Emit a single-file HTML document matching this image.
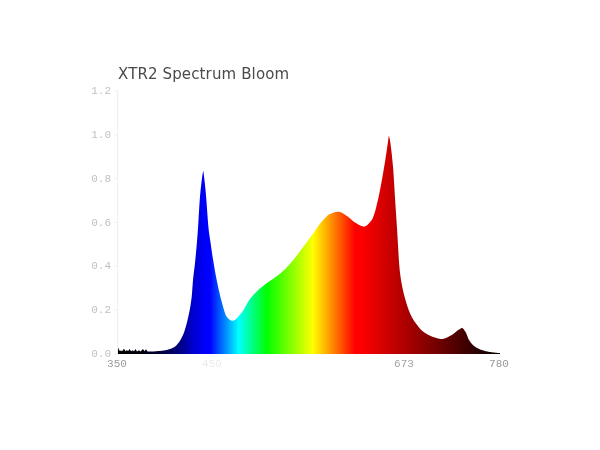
<!DOCTYPE html>
<html><head><meta charset="utf-8"><title>XTR2 Spectrum Bloom</title>
<style>
html,body{margin:0;padding:0;background:#fff;}
body{width:600px;height:450px;overflow:hidden;position:relative;font-family:"Liberation Mono",monospace;}
svg{position:absolute;left:0;top:0;}
.title{font-family:"DejaVu Sans","Liberation Sans",sans-serif;font-size:15px;fill:#4a4a4a;letter-spacing:0.13px;}
.yl{font-family:"Liberation Mono",monospace;font-size:11px;fill:#c0c0c0;text-anchor:end;}
.xl{font-family:"Liberation Mono",monospace;font-size:11px;fill:#a4a4a4;text-anchor:middle;}
</style></head><body>
<svg width="600" height="450" viewBox="0 0 600 450">
<defs><linearGradient id="g" gradientUnits="userSpaceOnUse" x1="118" y1="0" x2="500" y2="0"><stop offset="0.0000" stop-color="#000000"/><stop offset="0.0576" stop-color="#000008"/><stop offset="0.1047" stop-color="#000030"/><stop offset="0.1361" stop-color="#000058"/><stop offset="0.1571" stop-color="#000078"/><stop offset="0.1754" stop-color="#0000a0"/><stop offset="0.1937" stop-color="#0000c8"/><stop offset="0.2147" stop-color="#0000e8"/><stop offset="0.2304" stop-color="#0000ff"/><stop offset="0.2408" stop-color="#0000ff"/><stop offset="0.3154" stop-color="#00ffff"/><stop offset="0.3901" stop-color="#00ff00"/><stop offset="0.5105" stop-color="#ffff00"/><stop offset="0.6204" stop-color="#ff0000"/><stop offset="0.6387" stop-color="#fc0000"/><stop offset="1.0000" stop-color="#000000"/></linearGradient></defs>
<rect x="117" y="90" width="1.2" height="264" fill="#f0f0f0"/><rect x="114" y="90.5" width="3" height="1" fill="#f2f2f2"/><rect x="114" y="134.3" width="3" height="1" fill="#f2f2f2"/><rect x="114" y="178.1" width="3" height="1" fill="#f2f2f2"/><rect x="114" y="221.9" width="3" height="1" fill="#f2f2f2"/><rect x="114" y="265.7" width="3" height="1" fill="#f2f2f2"/><rect x="114" y="309.5" width="3" height="1" fill="#f2f2f2"/><rect x="114" y="353.3" width="3" height="1" fill="#f2f2f2"/>
<path d="M118,354.0 L118.0,351.0 L118.5,347.4 L119.6,351.0 L121.0,350.4 L122.0,351.3 L124.0,348.7 L125.5,351.2 L127.0,350.0 L128.0,351.3 L129.5,348.9 L131.0,351.3 L133.0,350.3 L134.0,351.4 L135.5,349.0 L137.0,351.4 L139.0,350.2 L140.5,351.4 L143.0,349.1 L144.5,351.3 L146.0,349.3 L147.5,351.4 L149.0,351.5 L154.0,351.4 L154.5,351.4 L155.0,351.3 L155.5,351.3 L156.0,351.2 L156.5,351.2 L157.0,351.2 L157.5,351.1 L158.0,351.1 L158.5,351.0 L159.0,351.0 L159.5,350.9 L160.0,350.9 L160.5,350.9 L161.0,350.8 L161.5,350.8 L162.0,350.7 L162.5,350.7 L163.0,350.6 L163.5,350.6 L164.0,350.5 L164.5,350.4 L165.0,350.3 L165.5,350.2 L166.0,350.1 L166.5,350.0 L167.0,349.9 L167.5,349.8 L168.0,349.6 L168.5,349.5 L169.0,349.3 L169.5,349.2 L170.0,349.0 L170.5,348.8 L171.0,348.7 L171.5,348.5 L172.0,348.3 L172.5,348.1 L173.0,347.8 L173.5,347.6 L174.0,347.3 L174.5,347.0 L175.0,346.6 L175.5,346.2 L176.0,345.7 L176.5,345.2 L177.0,344.7 L177.5,344.1 L178.0,343.5 L178.5,342.8 L179.0,342.2 L179.5,341.4 L180.0,340.7 L180.5,339.8 L181.0,339.0 L181.5,338.1 L182.0,337.1 L182.5,336.1 L183.0,335.0 L183.5,333.8 L184.0,332.5 L184.5,331.1 L185.0,329.5 L185.5,327.8 L186.0,326.0 L186.5,324.2 L187.0,322.2 L187.5,320.1 L188.0,318.0 L188.5,315.8 L189.0,313.5 L189.5,311.1 L190.0,308.4 L190.5,305.5 L191.0,302.1 L191.5,298.4 L192.0,293.5 L192.5,286.5 L193.0,280.0 L193.5,275.3 L194.0,271.3 L194.5,267.4 L195.0,263.0 L195.5,258.0 L196.0,252.8 L196.5,247.2 L197.0,241.2 L197.5,235.0 L198.0,227.9 L198.5,219.8 L199.0,211.3 L199.5,203.3 L200.0,196.4 L200.5,191.0 L201.0,186.3 L201.5,181.9 L202.0,178.0 L202.5,174.6 L203.0,172.0 L203.3,170.8 L203.8,174.5 L204.3,178.7 L204.8,183.1 L205.3,187.9 L205.8,193.0 L206.3,198.9 L206.8,205.7 L207.3,212.9 L207.8,219.8 L208.3,226.0 L208.8,230.8 L209.3,234.4 L209.8,237.7 L210.3,241.1 L210.8,244.6 L211.3,248.0 L211.8,251.4 L212.3,254.7 L212.8,257.9 L213.3,261.0 L213.8,264.0 L214.3,267.0 L214.8,269.9 L215.3,272.7 L215.8,275.4 L216.3,278.0 L216.8,280.5 L217.3,282.9 L217.8,285.3 L218.3,287.7 L218.8,289.9 L219.3,292.1 L219.8,294.3 L220.3,296.4 L220.8,298.4 L221.3,300.2 L221.8,302.1 L222.3,303.9 L222.8,305.7 L223.3,307.5 L223.8,309.3 L224.3,311.0 L224.8,312.6 L225.3,314.0 L225.8,315.2 L226.3,316.1 L226.8,316.8 L227.3,317.4 L227.8,317.9 L228.3,318.4 L228.8,318.9 L229.3,319.4 L229.8,319.7 L230.3,320.1 L230.8,320.4 L231.3,320.6 L231.8,320.7 L232.3,320.8 L232.8,320.8 L233.3,320.7 L233.8,320.5 L234.3,320.3 L234.8,320.0 L235.3,319.7 L235.8,319.2 L236.3,318.8 L236.8,318.3 L237.3,317.8 L237.8,317.2 L238.3,316.6 L238.8,316.0 L239.3,315.4 L239.8,314.8 L240.3,314.2 L240.8,313.6 L241.3,313.0 L241.8,312.4 L242.3,311.7 L242.8,311.1 L243.3,310.3 L243.8,309.5 L244.3,308.7 L244.8,307.8 L245.3,306.9 L245.8,306.0 L246.3,305.1 L246.8,304.2 L247.3,303.3 L247.8,302.4 L248.3,301.5 L248.8,300.7 L249.3,300.0 L249.8,299.3 L250.3,298.6 L250.8,298.0 L251.3,297.4 L251.8,296.8 L252.3,296.2 L252.8,295.6 L253.3,295.0 L253.8,294.5 L254.3,293.9 L254.8,293.4 L255.3,292.9 L255.8,292.4 L256.3,291.9 L256.8,291.4 L257.3,290.9 L257.8,290.5 L258.3,290.0 L258.8,289.5 L259.3,289.1 L259.8,288.7 L260.3,288.2 L260.8,287.8 L261.3,287.4 L261.8,287.0 L262.3,286.6 L262.8,286.2 L263.3,285.8 L263.8,285.5 L264.3,285.1 L264.8,284.7 L265.3,284.3 L265.8,284.0 L266.3,283.6 L266.8,283.2 L267.3,282.9 L267.8,282.5 L268.3,282.1 L268.8,281.8 L269.3,281.5 L269.8,281.1 L270.3,280.8 L270.8,280.4 L271.3,280.1 L271.8,279.8 L272.3,279.4 L272.8,279.1 L273.3,278.7 L273.8,278.4 L274.3,278.0 L274.8,277.6 L275.3,277.3 L275.8,276.9 L276.3,276.5 L276.8,276.1 L277.3,275.8 L277.8,275.4 L278.3,275.0 L278.8,274.6 L279.3,274.2 L279.8,273.8 L280.3,273.4 L280.8,273.0 L281.3,272.6 L281.8,272.1 L282.3,271.7 L282.8,271.3 L283.3,270.8 L283.8,270.3 L284.3,269.9 L284.8,269.4 L285.3,268.9 L285.8,268.4 L286.3,267.9 L286.8,267.3 L287.3,266.8 L287.8,266.3 L288.3,265.7 L288.8,265.2 L289.3,264.6 L289.8,264.1 L290.3,263.5 L290.8,262.9 L291.3,262.4 L291.8,261.8 L292.3,261.2 L292.8,260.6 L293.3,260.0 L293.8,259.4 L294.3,258.8 L294.8,258.2 L295.3,257.5 L295.8,256.9 L296.3,256.2 L296.8,255.6 L297.3,254.9 L297.8,254.2 L298.3,253.5 L298.8,252.8 L299.3,252.2 L299.8,251.5 L300.3,250.8 L300.8,250.1 L301.3,249.4 L301.8,248.7 L302.3,248.0 L302.8,247.4 L303.3,246.7 L303.8,246.0 L304.3,245.4 L304.8,244.7 L305.3,244.0 L305.8,243.4 L306.3,242.7 L306.8,242.0 L307.3,241.4 L307.8,240.7 L308.3,240.0 L308.8,239.4 L309.3,238.7 L309.8,238.0 L310.3,237.4 L310.8,236.7 L311.3,236.0 L311.8,235.3 L312.3,234.7 L312.8,234.0 L313.3,233.3 L313.8,232.6 L314.3,231.9 L314.8,231.2 L315.3,230.5 L315.8,229.7 L316.3,229.0 L316.8,228.3 L317.3,227.5 L317.8,226.8 L318.3,226.1 L318.8,225.4 L319.3,224.7 L319.8,224.0 L320.3,223.4 L320.8,222.7 L321.3,222.2 L321.8,221.6 L322.3,221.0 L322.8,220.5 L323.3,219.9 L323.8,219.3 L324.3,218.8 L324.8,218.2 L325.3,217.7 L325.8,217.2 L326.3,216.7 L326.8,216.2 L327.3,215.8 L327.8,215.4 L328.3,215.0 L328.8,214.6 L329.3,214.3 L329.8,214.1 L330.3,213.9 L330.8,213.7 L331.3,213.5 L331.8,213.3 L332.3,213.1 L332.8,212.9 L333.3,212.7 L333.8,212.5 L334.3,212.4 L334.8,212.2 L335.3,212.1 L335.8,212.0 L336.3,211.9 L336.8,211.8 L337.3,211.7 L337.8,211.7 L338.3,211.7 L338.8,211.7 L339.3,211.8 L339.8,211.9 L340.3,212.1 L340.8,212.3 L341.3,212.5 L341.8,212.7 L342.3,213.0 L342.8,213.3 L343.3,213.6 L343.8,213.9 L344.3,214.2 L344.8,214.6 L345.3,214.9 L345.8,215.2 L346.3,215.6 L346.8,215.9 L347.3,216.2 L347.8,216.6 L348.3,216.9 L348.8,217.4 L349.3,217.8 L349.8,218.2 L350.3,218.7 L350.8,219.1 L351.3,219.6 L351.8,220.0 L352.3,220.5 L352.8,220.9 L353.3,221.3 L353.8,221.7 L354.3,222.1 L354.8,222.4 L355.3,222.7 L355.8,223.0 L356.3,223.3 L356.8,223.6 L357.3,223.9 L357.8,224.2 L358.3,224.5 L358.8,224.8 L359.3,225.0 L359.8,225.3 L360.3,225.5 L360.8,225.8 L361.3,226.0 L361.8,226.1 L362.3,226.3 L362.8,226.4 L363.3,226.5 L363.8,226.5 L364.3,226.5 L364.8,226.4 L365.3,226.3 L365.8,226.0 L366.3,225.8 L366.8,225.4 L367.3,225.0 L367.8,224.6 L368.3,224.1 L368.8,223.6 L369.3,223.0 L369.8,222.5 L370.3,221.8 L370.8,221.2 L371.3,220.5 L371.8,219.9 L372.3,219.0 L372.8,218.0 L373.3,216.7 L373.8,215.3 L374.3,213.9 L374.8,212.3 L375.3,210.7 L375.8,208.8 L376.3,206.7 L376.8,204.6 L377.3,202.5 L377.8,200.4 L378.3,198.2 L378.8,195.9 L379.3,193.6 L379.8,191.1 L380.3,188.6 L380.8,186.0 L381.3,183.3 L381.8,180.6 L382.3,177.8 L382.8,174.9 L383.3,172.0 L383.8,169.1 L384.3,166.1 L384.8,163.0 L385.3,159.9 L385.8,156.6 L386.3,153.3 L386.8,150.0 L387.3,146.5 L387.8,143.0 L388.3,139.4 L388.8,135.8 L389.3,137.1 L389.8,139.3 L390.3,142.3 L390.8,145.9 L391.3,150.0 L391.8,154.6 L392.3,159.5 L392.8,164.6 L393.3,170.3 L393.8,177.8 L394.3,186.3 L394.8,194.8 L395.3,202.6 L395.8,210.0 L396.3,217.4 L396.8,224.9 L397.3,232.9 L397.8,241.6 L398.3,250.5 L398.8,258.9 L399.3,265.8 L399.8,270.9 L400.3,275.1 L400.8,278.6 L401.3,281.7 L401.8,284.5 L402.3,287.1 L402.8,289.5 L403.3,291.7 L403.8,293.8 L404.3,295.7 L404.8,297.6 L405.3,299.4 L405.8,301.1 L406.3,302.8 L406.8,304.4 L407.3,305.9 L407.8,307.4 L408.3,308.9 L408.8,310.2 L409.3,311.5 L409.8,312.8 L410.3,313.9 L410.8,315.0 L411.3,316.0 L411.8,317.0 L412.3,317.9 L412.8,318.8 L413.3,319.6 L413.8,320.4 L414.3,321.2 L414.8,321.9 L415.3,322.6 L415.8,323.3 L416.3,324.0 L416.8,324.6 L417.3,325.3 L417.8,325.9 L418.3,326.6 L418.8,327.2 L419.3,327.8 L419.8,328.4 L420.3,328.9 L420.8,329.5 L421.3,330.0 L421.8,330.4 L422.3,330.9 L422.8,331.3 L423.3,331.7 L423.8,332.1 L424.3,332.4 L424.8,332.8 L425.3,333.1 L425.8,333.4 L426.3,333.7 L426.8,334.0 L427.3,334.3 L427.8,334.6 L428.3,334.9 L428.8,335.1 L429.3,335.4 L429.8,335.6 L430.3,335.8 L430.8,336.1 L431.3,336.3 L431.8,336.5 L432.3,336.7 L432.8,336.8 L433.3,337.0 L433.8,337.2 L434.3,337.3 L434.8,337.5 L435.3,337.7 L435.8,337.8 L436.3,338.0 L436.8,338.1 L437.3,338.3 L437.8,338.4 L438.3,338.5 L438.8,338.7 L439.3,338.8 L439.8,338.8 L440.3,338.9 L440.8,339.0 L441.3,339.0 L441.8,339.0 L442.3,339.0 L442.8,338.9 L443.3,338.8 L443.8,338.7 L444.3,338.6 L444.8,338.4 L445.3,338.3 L445.8,338.1 L446.3,337.9 L446.8,337.6 L447.3,337.4 L447.8,337.1 L448.3,336.9 L448.8,336.6 L449.3,336.3 L449.8,336.0 L450.3,335.8 L450.8,335.5 L451.3,335.2 L451.8,334.9 L452.3,334.7 L452.8,334.3 L453.3,334.0 L453.8,333.6 L454.3,333.2 L454.8,332.8 L455.3,332.3 L455.8,331.9 L456.3,331.5 L456.8,331.1 L457.3,330.7 L457.8,330.3 L458.3,330.0 L458.8,329.7 L459.3,329.4 L459.8,329.1 L460.3,328.8 L460.8,328.5 L461.3,328.3 L461.8,328.0 L462.2,327.8 L462.7,328.2 L463.2,328.7 L463.7,329.3 L464.2,330.0 L464.7,330.7 L465.2,331.5 L465.7,332.3 L466.2,333.3 L466.7,334.4 L467.2,335.8 L467.7,337.1 L468.2,338.4 L468.7,339.5 L469.2,340.3 L469.7,341.1 L470.2,341.8 L470.7,342.4 L471.2,343.1 L471.7,343.7 L472.2,344.2 L472.7,344.8 L473.2,345.2 L473.7,345.7 L474.2,346.1 L474.7,346.5 L475.2,346.8 L475.7,347.2 L476.2,347.5 L476.7,347.8 L477.2,348.1 L477.7,348.3 L478.2,348.6 L478.7,348.8 L479.2,349.0 L479.7,349.3 L480.2,349.5 L480.7,349.7 L481.2,349.8 L481.7,350.0 L482.2,350.2 L482.7,350.3 L483.2,350.5 L483.7,350.6 L484.2,350.8 L484.7,350.9 L485.2,351.0 L485.7,351.2 L486.2,351.3 L486.7,351.4 L487.2,351.5 L487.7,351.6 L488.2,351.7 L488.7,351.8 L489.2,351.9 L489.7,352.0 L490.2,352.0 L490.7,352.1 L491.2,352.2 L491.7,352.2 L492.2,352.3 L492.7,352.4 L493.2,352.4 L493.7,352.5 L494.2,352.6 L494.7,352.6 L495.2,352.7 L495.7,352.7 L496.2,352.8 L496.7,352.8 L497.2,352.9 L497.7,352.9 L498.2,352.9 L498.7,353.0 L499.2,353.0 L499.7,353.0 L500.0,353.0 L500,354.0 Z" fill="url(#g)"/>
<text class="title" x="118" y="79.3">XTR2 Spectrum Bloom</text>
<text class="yl" x="111" y="94.1">1.2</text>
<text class="yl" x="111" y="137.9">1.0</text>
<text class="yl" x="111" y="181.7">0.8</text>
<text class="yl" x="111" y="225.5">0.6</text>
<text class="yl" x="111" y="269.3">0.4</text>
<text class="yl" x="111" y="313.1">0.2</text>
<text class="yl" x="111" y="356.9">0.0</text>
<text class="xl" x="117" y="366.6" style="fill:#9a9a9a">350</text>
<text class="xl" x="212" y="367" style="fill:#ebebeb">450</text>
<text class="xl" x="404" y="367">673</text>
<text class="xl" x="499" y="367" style="fill:#969696">780</text>
</svg>
</body></html>
